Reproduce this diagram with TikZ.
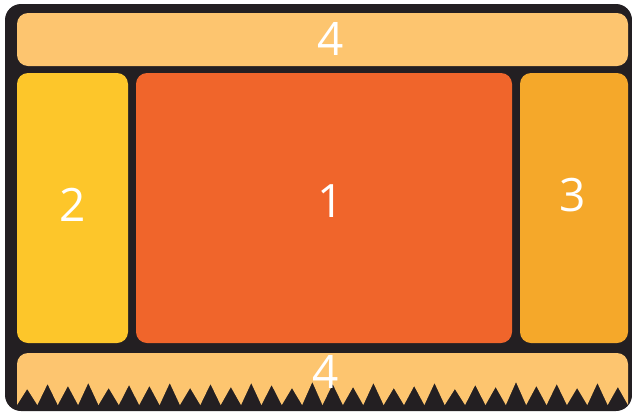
\documentclass[tikz,border=0pt]{standalone}
\usepackage{fontspec}
\setmainfont{Open Sans}
\usepackage{tikz}

\definecolor{framedark}{HTML}{231F22}
\definecolor{barorange}{HTML}{FDC56F}
\definecolor{sideyellow}{HTML}{FDC62A}
\definecolor{mainorange}{HTML}{F0652B}
\definecolor{sideorange}{HTML}{F5A82A}

\begin{document}
\begin{tikzpicture}[
  x=1pt, y=-1pt,
  panel/.style={rounded corners=11pt, inner sep=0pt},
  digit/.style={text=white, inner sep=0pt, font=\fontsize{46}{46}\selectfont}
]
\useasboundingbox (0,0) rectangle (632,413);
\fill[framedark, rounded corners=16pt] (5,4) rectangle (632,411);

\node[panel, fill=barorange, minimum width=611pt, minimum height=53pt] (topbar) at (322.5,39.5) {};
\node[panel, fill=sideyellow, minimum width=111pt, minimum height=270pt] (leftside) at (72.5,208) {};
\node[panel, fill=mainorange, minimum width=376pt, minimum height=270pt] (screen) at (324,208) {};
\node[panel, fill=sideorange, minimum width=108pt, minimum height=270pt] (rightside) at (574,208) {};

% bottom bar with torn lower edge
\fill[barorange] (17,405) [rounded corners=11pt] -- (17,353) -- (628,353) [sharp corners] -- (628,405)
  \foreach \i/\h in {29/387,28/383,27/388,26/384,25/386,24/382,23/387,22/385,21/389,20/383,
                     19/386,18/388,17/383,16/387,15/384,14/382,13/388,12/385,11/383,10/387,
                     9/384,8/388,7/383,6/386,5/385,4/388,3/383,2/386,1/384,0/389}
  { -- ({17+20.367*(\i+0.5)},\h) -- ({17+20.367*\i},405) } -- cycle;

\node[digit] (toplabel) at (331,39) {4};
\node[digit] (leftlabel) at (73,205) {2};
\node[digit] (screenlabel) at (331,201) {1};
\node[digit] (rightlabel) at (573,195) {3};
\node[digit] (bottomlabel) at (326,372) {4};
\end{tikzpicture}
\end{document}
